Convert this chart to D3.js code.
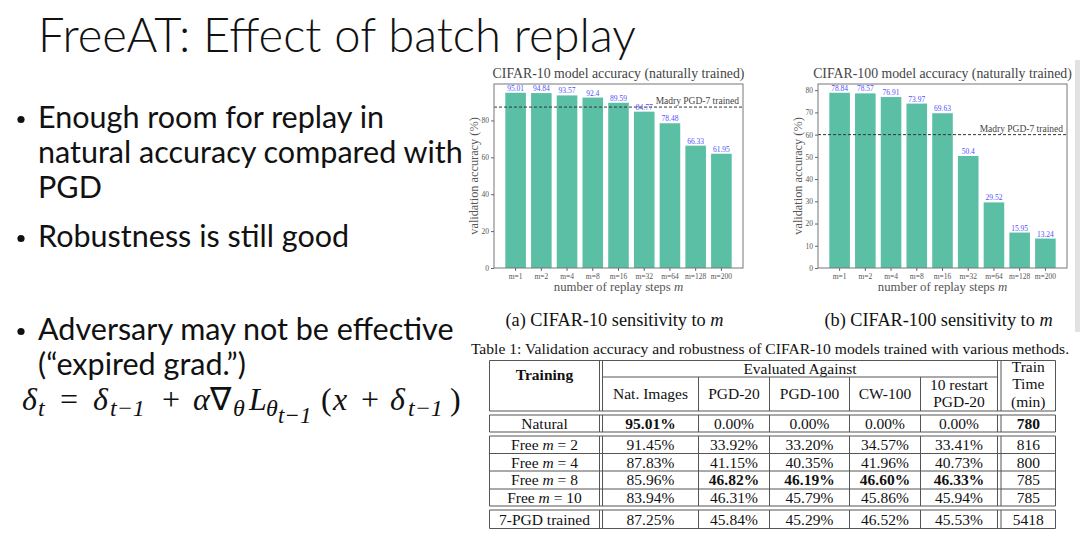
<!DOCTYPE html>
<html>
<head>
<meta charset="utf-8">
<script src="https://cdn.jsdelivr.net/npm/d3@7"></script>
<style>
  body { margin: 0; background: #fff; }
  svg { display: block; }
</style>
</head>
<body>
<div id="slide"></div>
<script>
// bar chart data
const steps = ["m=1", "m=2", "m=4", "m=8", "m=16", "m=32", "m=64", "m=128", "m=200"];
const cifar10Acc = [95.01, 94.84, 93.57, 92.4, 89.59, 84.77, 78.48, 66.33, 61.95];
const cifar100Acc = [78.84, 78.57, 76.91, 73.97, 69.63, 50.4, 29.52, 15.95, 13.24];
const madry10 = 87.25;
const madry100 = 60;
const cifar10Ticks = [0, 20, 40, 60, 80];
const cifar100Ticks = [0, 10, 20, 30, 40, 50, 60, 70, 80];

// table data
const methods = ["Natural", "Free m = 2", "Free m = 4", "Free m = 8", "Free m = 10", "7-PGD trained"];
const evalHeaders = [["Nat. Images"], ["PGD-20"], ["PGD-100"], ["CW-100"], ["10 restart", "PGD-20"]];
const natAcc = [95.01, 91.45, 87.83, 85.96, 83.94, 87.25];
const pgd20 = [0.00, 33.92, 41.15, 46.82, 46.31, 45.84];
const pgd100 = [0.00, 33.20, 40.35, 46.19, 45.79, 45.29];
const cw100 = [0.00, 34.57, 41.96, 46.60, 45.86, 46.52];
const restartPgd20 = [0.00, 33.41, 40.73, 46.33, 45.94, 45.53];
const trainTime = [780, 816, 800, 785, 785, 5418];

// slide text
const slideTitle = "FreeAT: Effect of batch replay";
const bullets = [
  ["Enough room for replay in", "natural accuracy compared with", "PGD"],
  ["Robustness is still good"],
  ["Adversary may not be effective", "(\u201cexpired grad.\u201d)"]
];

const W = 1080, H = 538;
const serif = "'Liberation Serif', 'Times New Roman', serif";
const sans = "Lato, 'Open Sans', sans-serif";

const svg = d3.select("#slide").append("svg").attr("width", W).attr("height", H);
svg.append("rect").attr("width", W).attr("height", H).attr("fill", "#fff");

// ---------- left side text ----------
const title = svg.append("text")
  .attr("x", 38).attr("y", 52)
  .attr("font-family", sans).attr("font-weight", 300)
  .attr("font-size", 40).attr("fill", "#111")
  .text(slideTitle);
title.attr("font-size", 40 * 598 / title.node().getComputedTextLength());

const bulletBase = [[128, 163, 198], [247], [340, 375]];
const bulletG = svg.append("g").attr("font-family", sans).attr("fill", "#111");
const lines = [];
bullets.forEach((b, i) => {
  bulletG.append("circle").attr("cx", 21).attr("cy", bulletBase[i][0] - 8.5).attr("r", 3.6);
  b.forEach((line, j) => {
    lines.push(bulletG.append("text").attr("x", 38).attr("y", bulletBase[i][j])
      .attr("font-size", 27).text(line));
  });
});
const longest = d3.max(lines, (t) => t.node().getComputedTextLength());
lines.forEach((t) => t.attr("font-size", 27 * 425 / longest));

// formula pieces: [text, level, italic, x]
const formula = [
  ["\u03b4", 0, 1, 22], ["t", 1, 1, 38], ["=", 0, 0, 60], ["\u03b4", 0, 1, 93], ["t\u22121", 1, 1, 110],
  ["+", 0, 0, 162], ["\u03b1", 0, 1, 193], ["\u2207", 0, 0, 210], ["\u03b8", 1, 1, 233], ["L", 0, 1, 249],
  ["\u03b8", 1, 1, 266], ["t\u22121", 2, 1, 278], ["(", 0, 0, 321], ["x", 0, 1, 333], ["+", 0, 0, 361],
  ["\u03b4", 0, 1, 390], ["t\u22121", 1, 1, 408], [")", 0, 0, 450]
];
const levelDy = [0, 6, 13];
const levelSize = [32, 24, 23];
const ftext = svg.append("text").attr("y", 410)
  .attr("font-family", serif).attr("fill", "#111");
let lvl = 0;
formula.forEach(([s, l, it, px]) => {
  ftext.append("tspan")
    .attr("x", px)
    .attr("dy", levelDy[l] - levelDy[lvl])
    .attr("font-size", levelSize[l])
    .attr("font-style", it ? "italic" : "normal")
    .text(s);
  lvl = l;
});

// ---------- bar charts ----------
function drawBarChart(o) {
  const g = svg.append("g");
  const x = d3.scaleBand().domain(steps).range([o.left, o.right])
    .paddingInner(0.2).paddingOuter(0.44);
  const y = d3.scaleLinear().domain([0, d3.max(o.values) * 1.05]).range([o.bottom, o.top]);
  const cx = (o.left + o.right) / 2;

  g.append("text").attr("x", cx).attr("y", 78)
    .attr("text-anchor", "middle").attr("font-family", serif)
    .attr("font-size", 13.8).attr("fill", "#444").text(o.title);

  g.selectAll("rect.bar")
    .data(o.values)
    .join("rect")
    .attr("class", "bar")
    .attr("x", (d, i) => x(steps[i]))
    .attr("width", x.bandwidth())
    .attr("y", (d) => y(d))
    .attr("height", (d) => y(0) - y(d))
    .attr("fill", "#5bbfa6");

  g.selectAll("text.val")
    .data(o.values)
    .join("text")
    .attr("class", "val")
    .attr("x", (d, i) => x(steps[i]) + x.bandwidth() / 2)
    .attr("y", (d) => y(d) - 2)
    .attr("text-anchor", "middle")
    .attr("font-family", serif).attr("font-size", 7.5).attr("fill", "#5050ff")
    .text((d) => d);

  g.append("line")
    .attr("x1", o.left).attr("x2", o.right)
    .attr("y1", y(o.madry)).attr("y2", y(o.madry))
    .attr("stroke", "#333").attr("stroke-width", 1).attr("stroke-dasharray", "3,2");
  g.append("text").attr("x", o.right - 4).attr("y", y(o.madry) - 3)
    .attr("text-anchor", "end").attr("font-family", serif)
    .attr("font-size", 9.5).attr("fill", "#444").text("Madry PGD-7 trained");

  g.append("rect").attr("x", o.left).attr("y", o.top)
    .attr("width", o.right - o.left).attr("height", o.bottom - o.top)
    .attr("fill", "none").attr("stroke", "#777").attr("stroke-width", 1);

  const yAxis = d3.axisLeft(y).tickValues(o.ticks).tickSize(3).tickPadding(2).tickSizeOuter(0);
  const gy = g.append("g").attr("transform", `translate(${o.left},0)`).call(yAxis);
  const xAxis = d3.axisBottom(x).tickSize(3).tickSizeOuter(0);
  const gx = g.append("g").attr("transform", `translate(0,${o.bottom})`).call(xAxis);
  [gx, gy].forEach((a) => {
    a.select(".domain").remove();
    a.selectAll("line").attr("stroke", "#666");
    a.selectAll("text").attr("font-family", serif).attr("font-size", 7.5).attr("fill", "#555");
  });

  g.append("text")
    .attr("transform", `translate(${o.left - 20},${(o.top + o.bottom) / 2}) rotate(-90)`)
    .attr("text-anchor", "middle").attr("dy", "0.3em")
    .attr("font-family", serif).attr("font-size", 12.3).attr("fill", "#555")
    .text("validation accuracy (%)");

  const xl = g.append("text").attr("x", cx).attr("y", 291)
    .attr("text-anchor", "middle").attr("font-family", serif)
    .attr("font-size", 12.8).attr("fill", "#555");
  xl.append("tspan").text("number of replay steps ");
  xl.append("tspan").attr("font-style", "italic").text("m");

  const cap = g.append("text").attr("x", cx - 4).attr("y", 326)
    .attr("text-anchor", "middle").attr("font-family", serif)
    .attr("font-size", 18.3).attr("fill", "#111");
  cap.append("tspan").text(o.caption);
  cap.append("tspan").attr("font-style", "italic").text("m");
}

drawBarChart({
  values: cifar10Acc, madry: madry10, ticks: cifar10Ticks,
  left: 494, right: 743, top: 84, bottom: 268,
  title: "CIFAR-10 model accuracy (naturally trained)",
  caption: "(a) CIFAR-10 sensitivity to "
});
drawBarChart({
  values: cifar100Acc, madry: madry100, ticks: cifar100Ticks,
  left: 818, right: 1067, top: 84, bottom: 268,
  title: "CIFAR-100 model accuracy (naturally trained)",
  caption: "(b) CIFAR-100 sensitivity to "
});

// light gray strip at right edge
svg.append("rect").attr("x", 1075).attr("y", 60).attr("width", 5).attr("height", 272).attr("fill", "#e2e2e2");

// ---------- table ----------
const tg = svg.append("g").attr("font-family", serif).attr("fill", "#111");
const lineColor = "#555";
function hline(x1, x2, yy) {
  tg.append("line").attr("x1", x1).attr("x2", x2).attr("y1", yy).attr("y2", yy)
    .attr("stroke", lineColor).attr("stroke-width", 1);
}
function vline(xx, y1, y2) {
  tg.append("line").attr("x1", xx).attr("x2", xx).attr("y1", y1).attr("y2", y2)
    .attr("stroke", lineColor).attr("stroke-width", 1);
}

tg.append("text").attr("x", 770).attr("y", 354).attr("text-anchor", "middle")
  .attr("font-size", 15.6)
  .text("Table 1: Validation accuracy and robustness of CIFAR-10 models trained with various methods.");

const xL = 489.5, xC1a = 599.5, xC1b = 602.5, xC6a = 997.5, xC6b = 1001, xR = 1055.5;
const colMid = [698.5, 769.5, 849.5, 920.5];
const colEdges = [xC1b, ...colMid, xC6a];
const colCenters = d3.range(5).map((i) => (colEdges[i] + colEdges[i + 1]) / 2);
const firstColCenter = (xL + xC1a) / 2;
const timeCenter = (xC6b + xR) / 2;

// row groups: [top, bottom]
const groups = [[360.5, 411], [415, 432], [436, 506], [510, 528.5]];
groups.forEach(([t, b], gi) => {
  hline(xL, xR, t);
  hline(xL, xR, b);
  [xL, xC1a, xC1b, xC6a, xC6b, xR].forEach((xx) => vline(xx, t, b));
  if (gi > 0) colMid.forEach((xx) => vline(xx, t, b));
});
hline(xC1b, xC6a, 377);
colMid.forEach((xx) => vline(xx, 377, 411));

// header text
tg.append("text").attr("x", firstColCenter).attr("y", 380).attr("text-anchor", "middle")
  .attr("font-size", 15.5).attr("font-weight", "bold").text("Training");
tg.append("text").attr("x", (xC1b + xC6a) / 2).attr("y", 374).attr("text-anchor", "middle")
  .attr("font-size", 15.5).text("Evaluated Against");
evalHeaders.forEach((h, i) => {
  const y0 = h.length === 1 ? 399 : 389.5;
  h.forEach((s, j) => {
    tg.append("text").attr("x", colCenters[i]).attr("y", y0 + j * 17.5)
      .attr("text-anchor", "middle").attr("font-size", 15.5).text(s);
  });
});
["Train", "Time", "(min)"].forEach((s, j) => {
  tg.append("text").attr("x", timeCenter).attr("y", 372 + j * 17.3)
    .attr("text-anchor", "middle").attr("font-size", 15.5).text(s);
});

// body
const rowY = [423.5, 444.7, 462.3, 479.9, 497.5, 519.3];
[453.5, 471, 489].forEach((yy) => hline(xL, xR, yy));
const accCols = [natAcc, pgd20, pgd100, cw100, restartPgd20];
methods.forEach((m, r) => {
  const t = tg.append("text").attr("x", firstColCenter).attr("y", rowY[r]).attr("dy", "0.35em")
    .attr("text-anchor", "middle").attr("font-size", 15.5);
  const match = m.match(/^Free m = (\d+)$/);
  if (match) {
    t.append("tspan").text("Free ");
    t.append("tspan").attr("font-style", "italic").text("m");
    t.append("tspan").text(" = " + match[1]);
  } else {
    t.text(m);
  }
  accCols.forEach((col, c) => {
    tg.append("text").attr("x", colCenters[c]).attr("y", rowY[r]).attr("dy", "0.35em")
      .attr("text-anchor", "middle").attr("font-size", 15.5)
      .attr("font-weight", col[r] === d3.max(col) ? "bold" : "normal")
      .text(col[r].toFixed(2) + "%");
  });
  tg.append("text").attr("x", timeCenter).attr("y", rowY[r]).attr("dy", "0.35em")
    .attr("text-anchor", "middle").attr("font-size", 15.5)
    .attr("font-weight", trainTime[r] === d3.min(trainTime) ? "bold" : "normal")
    .text(trainTime[r]);
});
</script>
</body>
</html>
